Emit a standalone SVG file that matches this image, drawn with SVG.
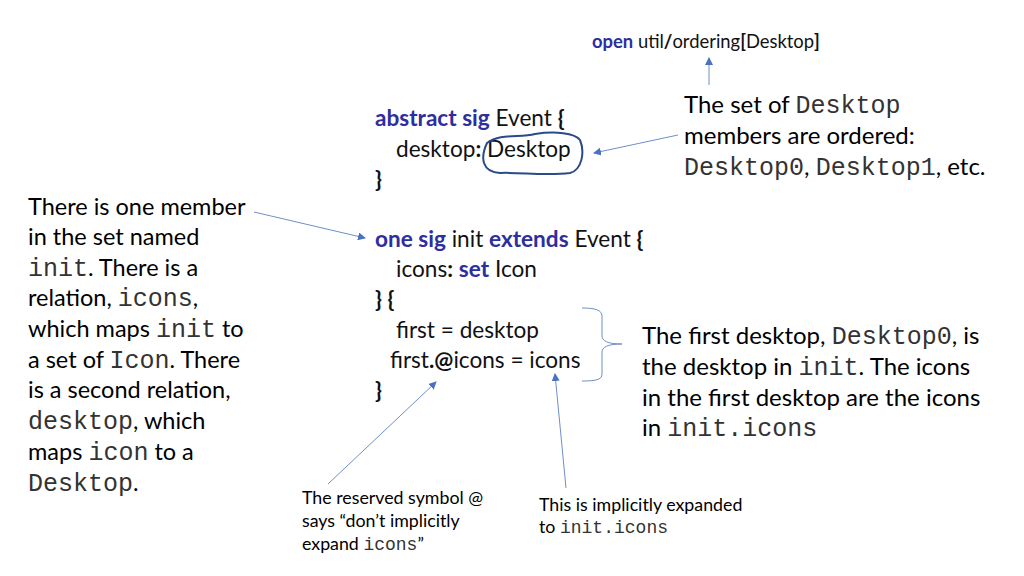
<svg xmlns="http://www.w3.org/2000/svg" width="1024" height="576" viewBox="0 0 1024 576">
<style>
.t{font-family:Lato,"Liberation Sans",sans-serif;font-size:23.5px;fill:#000}
.r{font-size:24px}
.s{font-family:Lato,"Liberation Sans",sans-serif;font-size:17.8px;fill:#000}
.m{font-family:"Liberation Mono",monospace;font-size:25px;fill:#333}
.s .m{font-size:18px}
.c{font-family:Lato,"Liberation Sans",sans-serif;font-size:22.6px;fill:#111}
.k{fill:#2e2e9e;font-weight:bold}
.b{font-weight:bold}
.ln{stroke:#6f8fc8;stroke-width:1;fill:none}
</style>
<defs><marker id="a" markerWidth="8" markerHeight="8" refX="7" refY="4" orient="auto" markerUnits="userSpaceOnUse"><path d="M0,0L8,4L0,8z" fill="#4a72c0"/></marker></defs>
<rect width="1024" height="576" fill="#fff"/>
<g id="code">
<text class="c" x="592" y="48" style="font-size:18.4px"><tspan class="k">open</tspan> util<tspan class="b">/</tspan>ordering<tspan class="b">[</tspan>Desktop<tspan class="b">]</tspan></text>
<text class="c" x="375" y="126"><tspan class="k">abstract sig</tspan> Event <tspan class="b">{</tspan></text>
<text class="c" x="396" y="157">desktop<tspan class="b">:</tspan> Desktop</text>
<text class="c b" x="375" y="187">}</text>
<text class="c" x="375" y="247"><tspan class="k">one sig</tspan> init <tspan class="k">extends</tspan> Event <tspan class="b">{</tspan></text>
<text class="c" x="396" y="277">icons<tspan class="b">:</tspan> <tspan class="k">set</tspan> Icon</text>
<text class="c b" x="375" y="307">} {</text>
<text class="c" x="396" y="338">first = desktop</text>
<text class="c" x="390" y="368">first<tspan class="b">.@</tspan>icons = icons</text>
<text class="c b" x="375" y="398">}</text>
<path d="M487,143 C500,133 520,138 535,134 C555,131 575,133 580,140 C585,152 582,170 570,173 C545,176 520,172 500,173 C482,172 480,158 487,143z" fill="none" stroke="#2b4a8a" stroke-width="2"/>
</g>
<g id="notes">
<text class="t" x="28" y="215">There is one member</text>
<text class="t" x="28" y="245">in the set named</text>
<text class="t" x="28" y="276"><tspan class="m">init</tspan>. There is a</text>
<text class="t" x="28" y="306">relation, <tspan class="m">icons</tspan>,</text>
<text class="t" x="28" y="337">which maps <tspan class="m">init</tspan> to</text>
<text class="t" x="28" y="368">a set of <tspan class="m">Icon</tspan>. There</text>
<text class="t" x="28" y="398">is a second relation,</text>
<text class="t" x="28" y="429"><tspan class="m">desktop</tspan>, which</text>
<text class="t" x="28" y="460">maps <tspan class="m">icon</tspan> to a</text>
<text class="t" x="28" y="491"><tspan class="m">Desktop</tspan>.</text>
<text class="t r" x="684" y="113">The set of <tspan class="m">Desktop</tspan></text>
<text class="t r" x="684" y="144">members are ordered:</text>
<text class="t r" x="684" y="175"><tspan class="m">Desktop0</tspan>, <tspan class="m">Desktop1</tspan>, etc.</text>
<text class="t r" x="642" y="344">The first desktop, <tspan class="m">Desktop0</tspan>, is</text>
<text class="t r" x="642" y="375">the desktop in <tspan class="m">init</tspan>. The icons</text>
<text class="t r" x="642" y="406">in the first desktop are the icons</text>
<text class="t r" x="642" y="436">in <tspan class="m">init.icons</tspan></text>
<text class="s" x="302" y="504">The reserved symbol @</text>
<text class="s" x="302" y="527">says “don’t implicitly</text>
<text class="s" x="302" y="550">expand <tspan class="m">icons</tspan>”</text>
<text class="s" x="539" y="511">This is implicitly expanded</text>
<text class="s" x="539" y="533">to <tspan class="m">init.icons</tspan></text>
</g>
<g id="connectors">
<line class="ln" x1="709" y1="85" x2="709" y2="58" marker-end="url(#a)"/>
<line class="ln" x1="678" y1="135" x2="594" y2="153" marker-end="url(#a)"/>
<line class="ln" x1="254" y1="212" x2="365" y2="238" marker-end="url(#a)"/>
<line class="ln" x1="328" y1="484" x2="436" y2="382" marker-end="url(#a)"/>
<line class="ln" x1="566" y1="488" x2="555" y2="374" marker-end="url(#a)"/>
<path class="ln" d="M582,308 C595,308 602,310 602,316 L602,336 C602,341 608,344 622,344 C608,344 602,347 602,352 L602,374 C602,380 595,381 582,381"/>
</g>
</svg>
